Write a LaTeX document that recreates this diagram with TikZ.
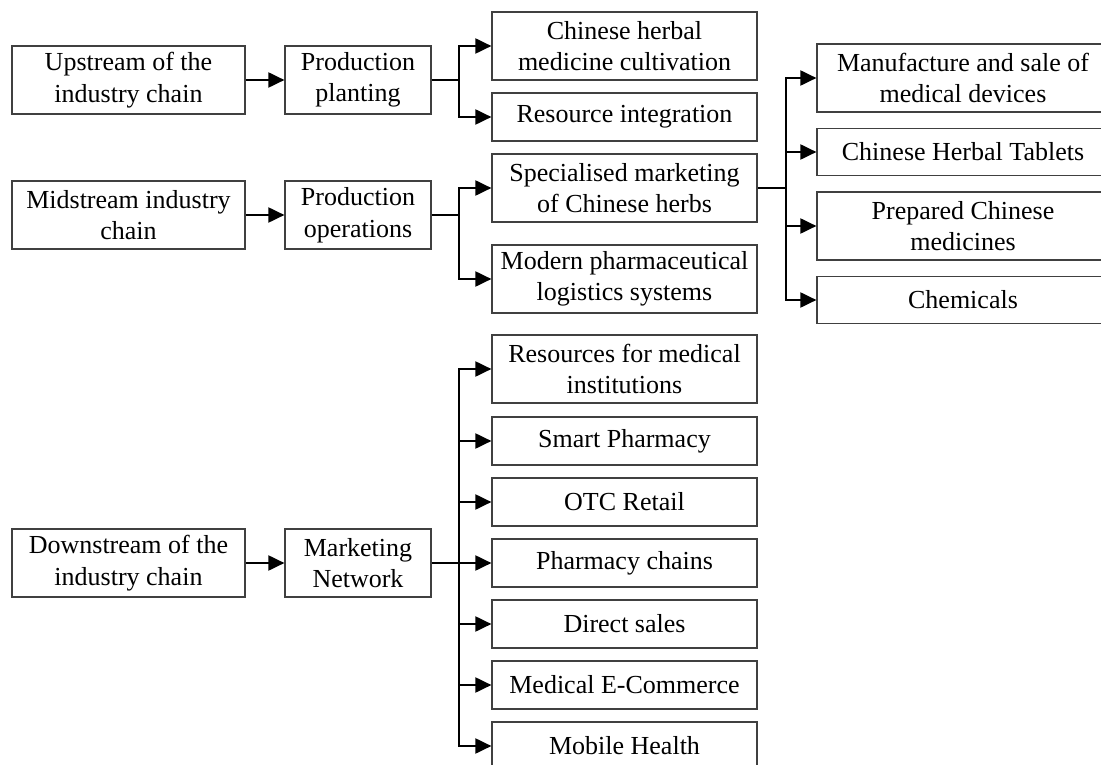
\documentclass[tikz,border=0pt]{standalone}
\usepackage{fontspec}
\setmainfont{Liberation Serif}
\usetikzlibrary{calc}
\usetikzlibrary{positioning}
\usetikzlibrary{arrows.meta}
\tikzstyle{chainbox} = [draw=black!75, line width=1.2pt, rectangle, align=center, inner sep=0pt, minimum height=68, font=\fontsize{26}{31.5}\selectfont]
\tikzstyle{stagebox} = [chainbox, minimum width=233]
\tikzstyle{linkbox} = [chainbox, minimum width=146]
\tikzstyle{itembox} = [chainbox, minimum width=265]
\tikzstyle{subbox} = [chainbox, minimum width=292]
\tikzstyle{flow} = [->, line width=2pt]
\tikzstyle{joint} = [line width=2pt]

\begin{document}
\begin{tikzpicture}[x=1pt, y=-1pt, >={Triangle[length=16pt,width=15pt]}]
    \useasboundingbox (0,0) rectangle (1101,765);

    % upstream
    \node[stagebox] (up_chain) at (128.5,80) {Upstream of the\\industry chain};
    \node[linkbox] (up_prod) at ($(up_chain)+(229.5,0)$) {Production\\planting};
    \node[itembox] (up_cult) at ($(up_prod)+(266.5,-34)$)
{Chinese herbal\\medicine cultivation};
    \node[itembox, minimum height=48] (up_integr) at ($(up_prod)+(266.5,37)$)
{Resource integration};
    \coordinate (up_fork) at ($(up_prod.east)+(27,0)$);
    \draw[flow] (up_chain) -- (up_prod);
    \draw[joint] (up_prod) -- (up_fork);
    \draw[flow] (up_fork) |- (up_cult);
    \draw[flow] (up_fork) |- (up_integr);

    % midstream
    \node[stagebox] (mid_chain) at (128.5,215) {Midstream industry\\chain};
    \node[linkbox] (mid_prod) at ($(mid_chain)+(229.5,0)$) {Production\\operations};
    \node[itembox] (mid_mkt) at ($(mid_prod)+(266.5,-27)$)
{Specialised marketing\\of Chinese herbs};
    \node[itembox] (mid_logis) at ($(mid_prod)+(266.5,64)$)
{Modern pharmaceutical\\logistics systems};
    \coordinate (mid_fork) at ($(mid_prod.east)+(27,0)$);
    \draw[flow] (mid_chain) -- (mid_prod);
    \draw[joint] (mid_prod) -- (mid_fork);
    \draw[flow] (mid_fork) |- (mid_mkt);
    \draw[flow] (mid_fork) |- (mid_logis);

    \node[subbox] (mkt_devices) at ($(mid_mkt)+(338.5,-110)$)
{Manufacture and sale of\\medical devices};
    \node[subbox, minimum height=47] (mkt_tablets) at ($(mid_mkt)+(338.5,-36)$)
{Chinese Herbal Tablets};
    \node[subbox] (mkt_prepared) at ($(mid_mkt)+(338.5,38)$)
{Prepared Chinese\\medicines};
    \node[subbox, minimum height=47] (mkt_chem) at ($(mid_mkt)+(338.5,112)$)
{Chemicals};
    \coordinate (mkt_fork) at ($(mid_mkt.east)+(28,0)$);
    \draw[joint] (mid_mkt) -- (mkt_fork);
    \draw[flow] (mkt_fork) |- (mkt_devices);
    \draw[flow] (mkt_fork) |- (mkt_tablets);
    \draw[flow] (mkt_fork) |- (mkt_prepared);
    \draw[flow] (mkt_fork) |- (mkt_chem);

    % downstream
    \node[stagebox] (down_chain) at (128.5,563) {Downstream of the\\industry chain};
    \node[linkbox] (down_prod) at ($(down_chain)+(229.5,0)$) {Marketing\\Network};
    \node[itembox] (down_inst) at ($(down_prod)+(266.5,-194)$)
{Resources for medical\\institutions};
    \node[itembox, minimum height=48] (down_smart) at ($(down_prod)+(266.5,-122)$)
{Smart Pharmacy};
    \node[itembox, minimum height=48] (down_otc) at ($(down_prod)+(266.5,-61)$)
{OTC Retail};
    \node[itembox, minimum height=48] (down_chains) at ($(down_prod)+(266.5,0)$)
{Pharmacy chains};
    \node[itembox, minimum height=48] (down_direct) at ($(down_prod)+(266.5,61)$)
{Direct sales};
    \node[itembox, minimum height=48] (down_ecom) at ($(down_prod)+(266.5,122)$)
{Medical E-Commerce};
    \node[itembox, minimum height=48] (down_mobile) at ($(down_prod)+(266.5,183)$)
{Mobile Health};
    \coordinate (down_fork) at ($(down_prod.east)+(27,0)$);
    \draw[flow] (down_chain) -- (down_prod);
    \draw[joint] (down_prod) -- (down_fork);
    \draw[flow] (down_fork) |- (down_inst);
    \draw[flow] (down_fork) |- (down_smart);
    \draw[flow] (down_fork) |- (down_otc);
    \draw[flow] (down_fork) -- (down_chains);
    \draw[flow] (down_fork) |- (down_direct);
    \draw[flow] (down_fork) |- (down_ecom);
    \draw[flow] (down_fork) |- (down_mobile);
\end{tikzpicture}
\end{document}
